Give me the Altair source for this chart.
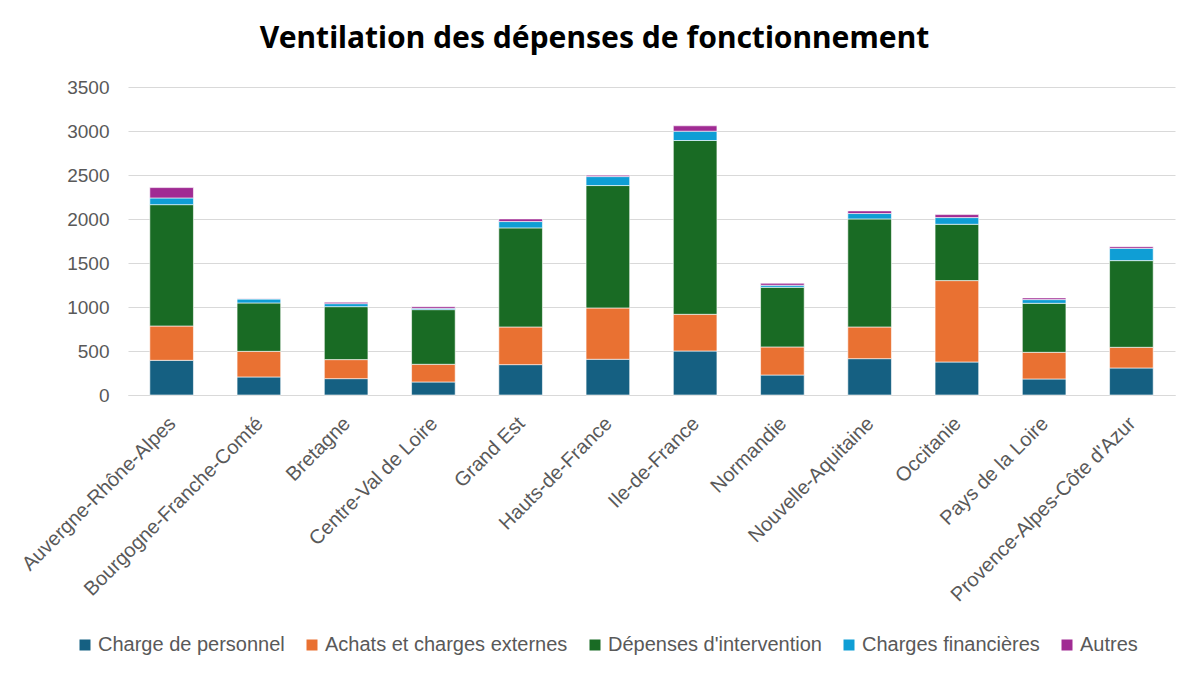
import altair as alt
import pandas as pd

regions = ["Auvergne-Rhône-Alpes", "Bourgogne-Franche-Comté", "Bretagne", "Centre-Val de Loire",
           "Grand Est", "Hauts-de-France", "Ile-de-France", "Normandie", "Nouvelle-Aquitaine",
           "Occitanie", "Pays de la Loire", "Provence-Alpes-Côte d'Azur"]
series = ["Charge de personnel", "Achats et charges externes", "Dépenses d'intervention",
          "Charges financières", "Autres"]
personnel = [394, 205, 186, 148, 345, 406, 500, 227, 413, 375, 182, 307]
achats = [390, 291, 216, 201, 428, 583, 417, 319, 360, 925, 303, 235]
intervention = [1379, 550, 602, 621, 1126, 1391, 1975, 678, 1228, 640, 557, 985]
financieres = [76, 45, 34, 15, 72, 102, 106, 23, 61, 76, 42, 140]
autres = [118, 4, 16, 19, 30, 16, 61, 23, 30, 34, 19, 19]
colors = ["#156082", "#E97132", "#196B24", "#0F9ED5", "#A02B93"]

rows = []
for si, (name, vals) in enumerate(zip(series, [personnel, achats, intervention, financieres, autres])):
    for r, v in zip(regions, vals):
        rows.append({"region": r, "serie": name, "valeur": v, "ordre": si})
df = pd.DataFrame(rows)

TFONT = "Noto Sans"
FONT = "Liberation Sans"

chart = alt.Chart(df).mark_bar(stroke="white", strokeWidth=0.6).encode(
    x=alt.X("region:N", sort=regions, title=None,
            scale=alt.Scale(paddingInner=0.5, paddingOuter=0.25),
            axis=alt.Axis(labelAngle=-45, labelFontSize=20, labelColor="#595959", labelFont=FONT,
                          ticks=False, domainColor="#D9D9D9", labelPadding=18, labelOffset=-6,
                          grid=False, labelLimit=0)),
    y=alt.Y("valeur:Q", stack="zero", title=None,
            scale=alt.Scale(domain=[0, 3500]),
            axis=alt.Axis(values=list(range(0, 3501, 500)), format="d", labelFontSize=19,
                          labelColor="#595959", labelFont=FONT, ticks=False, domain=False,
                          gridColor="#D9D9D9", labelPadding=19)),
    color=alt.Color("serie:N", scale=alt.Scale(domain=series, range=colors),
                    legend=alt.Legend(title=None, orient="none", direction="horizontal",
                                      legendX=-53, legendY=548, symbolType="square", symbolSize=121,
                                      labelFontSize=20, labelFont=FONT, labelColor="#595959",
                                      columnPadding=17, labelOffset=3, symbolStrokeWidth=0,
                                      labelLimit=0)),
    order=alt.Order("ordre:Q", sort="ascending"),
).properties(
    width=1047, height=308,
    padding={"left": 120, "top": 79, "right": 17, "bottom": 270},
    autosize=alt.AutoSizeParams(type="none"),
    title=alt.TitleParams("Ventilation des dépenses de fonctionnement", fontSize=30, fontWeight="bold",
                          font=TFONT, color="#000000", anchor="middle", offset=24, dx=-57),
).configure_view(stroke=None)

chart.save("out.html", embed_options={"renderer": "svg", "actions": False})
